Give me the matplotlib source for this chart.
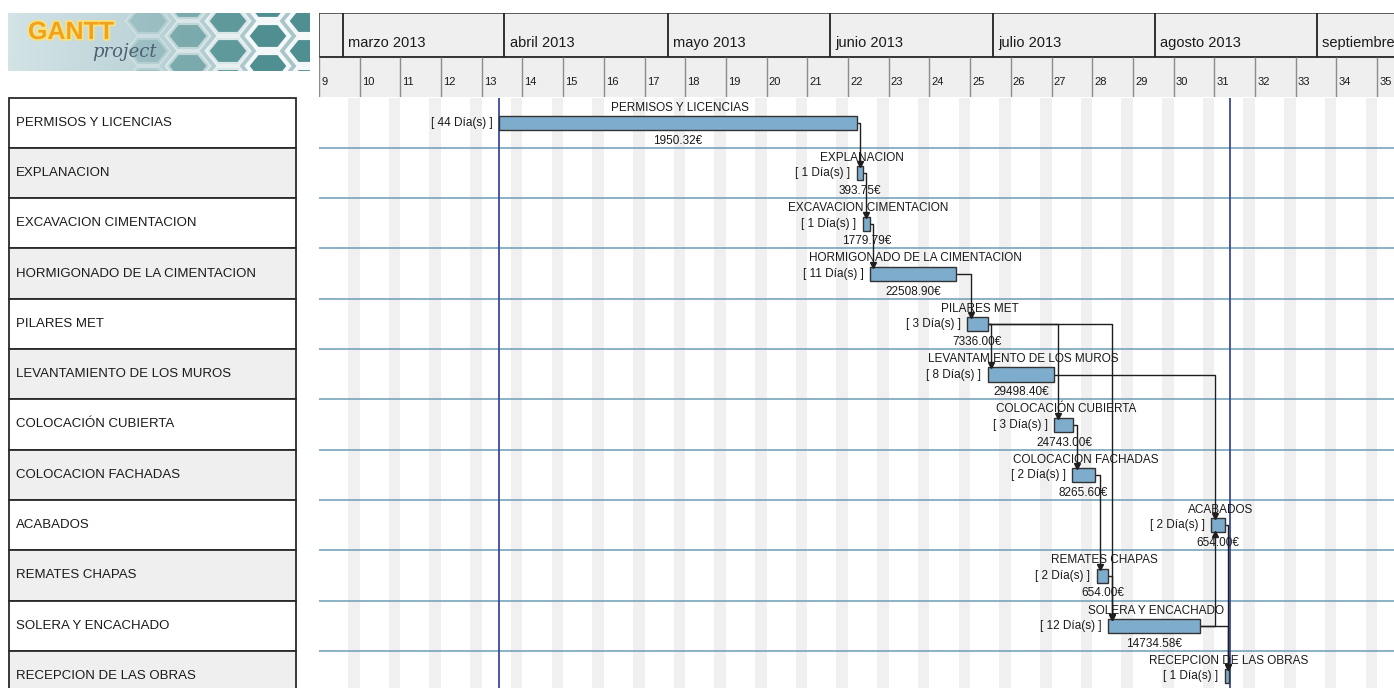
import numpy as np
import matplotlib
matplotlib.use("Agg")
import matplotlib.pyplot as plt
from matplotlib.patches import Rectangle, Polygon
import matplotlib.patheffects as pe

plt.rcParams['font.family'] = ['Liberation Sans', 'DejaVu Sans']

# ---- data (x in days counted from the start of week 9) ----
table_names = ["PERMISOS Y LICENCIAS", "EXPLANACION", "EXCAVACION CIMENTACION",
               "HORMIGONADO DE LA CIMENTACION", "PILARES MET", "LEVANTAMIENTO DE LOS MUROS",
               "COLOCACIÓN CUBIERTA", "COLOCACION FACHADAS", "ACABADOS", "REMATES CHAPAS",
               "SOLERA Y ENCACHADO", "RECEPCION DE LAS OBRAS"]
bar_names = ["PERMISOS Y LICENCIAS", "EXPLANACION", "EXCAVACION CIMENTACION",
             "HORMIGONADO DE LA CIMENTACION", "PILARES MET", "LEVANTAMIENTO DE LOS MUROS",
             "COLOCACIÓN CUBIERTA", "COLOCACION FACHADAS", "ACABADOS", "REMATES CHAPAS",
             "SOLERA Y ENCACHADO", "RECEPCION DE LAS OBRAS"]
durations = [44, 1, 1, 11, 3, 8, 3, 2, 2, 2, 12, 1]
costs = ["1950.32", "393.75", "1779.79", "22508.90", "7336.00", "29498.40",
         "24743.00", "8265.60", "654.00", "654.00", "14734.58", None]
starts = [31.0, 92.5, 93.5, 94.75, 111.5, 115.0, 126.5, 129.5, 153.5, 133.75, 135.75, 155.75]
ends = [92.5, 93.5, 94.75, 109.5, 115.0, 126.5, 129.75, 133.5, 155.75, 135.75, 151.5, 156.5]
deps = [(0, 1), (1, 2), (2, 3), (3, 4), (4, 5), (4, 6), (4, 10), (5, 8), (6, 7),
        (7, 9), (9, 10), (10, 8), (10, 11), (8, 11)]
marker_days = [31.0, 156.7]

weeks = list(range(9, 36))
month_labels = ["marzo 2013", "abril 2013", "mayo 2013", "junio 2013",
                "julio 2013", "agosto 2013", "septiembre 2013"]
month_starts = [4.1, 31.9, 60.0, 87.9, 115.9, 143.8, 171.6]

W, H = 1394, 688
ROW = 50.3
XMAX = (W - 319) / 5.814
YMAX = (H - 97.5) / ROW


def box(x0, y0, x1, y1):
    return [x0 / W, 1 - y1 / H, (x1 - x0) / W, (y1 - y0) / H]


fig = plt.figure(figsize=(W / 100, H / 100), dpi=100)
fig.patch.set_facecolor("white")

# ---- gantt chart area ----
ax = fig.add_axes(box(319, 97.5, W, H))
ax.set_xlim(0, XMAX)
ax.set_ylim(YMAX, 0)
ax.axis("off")

for w in weeks:
    d0 = (w - 9) * 7
    ax.axvspan(d0 + 5, d0 + 7, color="#f0f0f0", lw=0, zorder=0)
for i in range(1, len(bar_names)):
    ax.axhline(i, color="#78a3bb", lw=1.2, zorder=1)
for m in marker_days:
    ax.axvline(m, color="#3a4a9e", lw=1.3, zorder=2)

rows = np.arange(len(bar_names))
starts_a = np.array(starts)
ends_a = np.array(ends)
BAR_Y, BAR_H = 0.507, 0.28
ax.barh(rows + BAR_Y, ends_a - starts_a, left=starts_a, height=BAR_H,
        color="#7eaccd", edgecolor="#333333", lw=1.0, zorder=4)

# dependency arrows
for p, s in deps:
    yp = p + BAR_Y
    xt = max(ends[p], starts[s]) + 0.6
    if s > p:
        ys = s + BAR_Y - BAR_H / 2
        mk, ym = "v", ys - 0.04
    else:
        ys = s + BAR_Y + BAR_H / 2
        mk, ym = "^", ys + 0.04
    ax.plot([ends[p], xt, xt], [yp, yp, ys], color="#1e1e1e", lw=1.0, zorder=3)
    ax.plot([xt], [ym], marker=mk, color="#1e1e1e", ms=4, zorder=5)

txt = dict(fontsize=8.5, color="#1a1a1a", zorder=6)
for i in rows:
    mid = (starts[i] + ends[i]) / 2
    ax.text(mid + 0.4, i + 0.2, bar_names[i], ha="center", va="center", **txt)
    ax.text(starts[i] - 1.1, i + BAR_Y, f"[ {durations[i]} Día(s) ]",
            ha="right", va="center", **txt)
    if costs[i] is not None:
        ax.text(mid, i + 0.86, costs[i] + "€", ha="center", va="center", **txt)

# ---- timeline header ----
hx = fig.add_axes(box(319, 13, W, 97))
hx.set_xlim(0, XMAX)
hx.set_ylim(84, 0)
hx.axis("off")
hx.add_patch(Rectangle((0, 0), XMAX, 84, facecolor="#efefef", edgecolor="none"))
hx.axhline(0, color="#444444", lw=1.2)
hx.axhline(44, color="#333333", lw=1.4)
hx.vlines([0], 0, 84, color="#444444", lw=1.2)
for w in weeks:
    d0 = (w - 9) * 7
    hx.vlines(d0, 44, 84, color="#8c8c8c", lw=1.0)
    hx.text(d0 + 0.35, 69, str(w), fontsize=8, color="#1a1a1a", ha="left", va="center")
for m, lab in zip(month_starts, month_labels):
    hx.vlines(m, 0, 44, color="#222222", lw=1.3)
    hx.text(m + 0.9, 30, lab, fontsize=10.5, color="#1a1a1a", ha="left", va="center",
            clip_on=True)

# ---- task table ----
tx = fig.add_axes(box(9, 97.5, 296, H))
tx.set_xlim(0, 287)
tx.set_ylim(YMAX, 0)
tx.axis("off")
for i, name in enumerate(table_names):
    fc = "white" if i % 2 == 0 else "#efefef"
    tx.add_patch(Rectangle((0, i), 287, 1, facecolor=fc, edgecolor="#2a2a2a", lw=1.3, clip_on=False))
    tx.text(7, i + 0.5, name, fontsize=9.5, color="#1a1a1a", ha="left", va="center")

# ---- logo ----
lx = fig.add_axes(box(8, 13, 310, 71))
lx.set_xlim(0, 302)
lx.set_ylim(58, 0)
lx.axis("off")
grad = np.linspace(0, 1, 300)[None, :]
lx.imshow(grad, cmap=matplotlib.colors.LinearSegmentedColormap.from_list(
    "lg", ["#d3e3e6", "#b9d2d6", "#a6c3c7"]), extent=(0, 302, 58, 0), aspect="auto", zorder=0)
for c in range(6):
    cx = 140 + c * 40
    for r in range(-1, 3):
        cy = 8 + r * 30 + (c % 2) * 15
        a, b = 21, 13
        verts = [(cx - a, cy), (cx - a / 2, cy - b), (cx + a / 2, cy - b),
                 (cx + a, cy), (cx + a / 2, cy + b), (cx - a / 2, cy + b)]
        alpha = min(1.0, 0.3 + (cx - 140) / 150)
        lx.add_patch(Polygon(verts, closed=True, facecolor="#4f8f91", alpha=alpha,
                             edgecolor="#f4f8f8", lw=3, zorder=1))
t = lx.text(20, 19, "GANTT", fontsize=18, fontweight="bold", color="#f0a21e",
            ha="left", va="center", zorder=3)
t.set_path_effects([pe.withStroke(linewidth=2.5, foreground="#fbe27a")])
lx.text(84, 39, "project", fontsize=13, style="italic", family="DejaVu Serif",
        color="#4f5f73", ha="left", va="center", zorder=3)

fig.savefig("out.png", dpi=100)
